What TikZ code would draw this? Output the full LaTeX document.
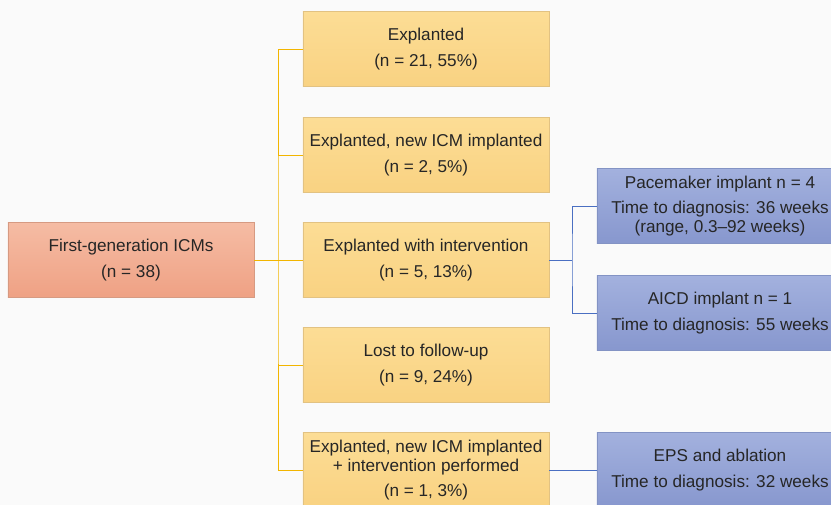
\documentclass[tikz,border=0pt]{standalone}
\usepackage{fontspec}
\setmainfont{Liberation Sans}
\usetikzlibrary{positioning}

\begin{document}
\begin{tikzpicture}[x=0.025cm,y=-0.025cm,
    box/.style={draw,minimum width=6.15cm,minimum height=1.875cm,align=center,
        font=\fontsize{12.2}{13.5}\selectfont,text=black!85},
    rootbox/.style={box,draw=mySalmonD,top color=mySalmonT,bottom color=mySalmonB},
    outbox/.style={box,draw=myYellowD,top color=myYellowT,bottom color=myYellowB},
    evbox/.style={box,draw=myBlueD,top color=myBlueT,bottom color=myBlueB},
    yline/.style={myOrange,line width=0.7pt},
    bline/.style={myBlue,line width=0.7pt}]
% Colors define
\definecolor{mySalmonT}{HTML}{F5BCA4}
\definecolor{mySalmonB}{HTML}{EFA184}
\definecolor{mySalmonD}{HTML}{D69A82}
\definecolor{myYellowT}{HTML}{FCDD95}
\definecolor{myYellowB}{HTML}{F9D282}
\definecolor{myYellowD}{HTML}{E2C282}
\definecolor{myBlueT}{HTML}{A3B1DE}
\definecolor{myBlueB}{HTML}{8797CE}
\definecolor{myBlueD}{HTML}{8393C4}
\definecolor{myOrange}{HTML}{F2B500}
\definecolor{myBlue}{HTML}{4A6FC2}

% Canvas
\useasboundingbox[fill=black!2] (0,0) rectangle (831,505);
\clip (0,0) rectangle (831,505);

% Root
\node[rootbox] (icm) at (131,260) {First-generation ICMs\\[4.5pt](n = 38)};

% Outcomes
\node[outbox] (expl) at (426,49) {Explanted\\[4.5pt](n = 21, 55\%)};
\node[outbox] (newicm) at (426,155) {Explanted, new ICM implanted\\[4.5pt](n = 2, 5\%)};
\node[outbox] (interv) at (426,260) {Explanted with intervention\\[4.5pt](n = 5, 13\%)};
\node[outbox] (lost) at (426,365) {Lost to follow-up\\[4.5pt](n = 9, 24\%)};
\node[outbox] (both) at (426,470) {Explanted, new ICM implanted\\+ intervention performed\\[4.5pt](n = 1, 3\%)};

% Interventions
\node[evbox] (pace) at (720,206) {Pacemaker implant n = 4\\[4.5pt]Time to diagnosis: 36 weeks\\(range, 0.3–92 weeks)};
\node[evbox] (aicd) at (720,313) {AICD implant n = 1\\[4.5pt]Time to diagnosis: 55 weeks};
\node[evbox] (eps) at (720,470) {EPS and ablation\\[4.5pt]Time to diagnosis: 32 weeks};

% Junctions
\coordinate (jy) at (278,260);
\coordinate (jb) at (572,260);

% Orange tree
\draw[yline] (icm.east) -- (jy);
\draw[yline] (expl.west) -| (jy) |- (both.west);
\foreach \n in {newicm,interv,lost}
    \draw[yline] (jy |- \n.west) -- (\n.west);

% Blue tree
\draw[bline] (interv.east) -- (jb);
\draw[bline] (pace.west) -| (jb) |- (aicd.west);
\draw[bline] (both.east) -- (eps.west);
\end{tikzpicture}
\end{document}
